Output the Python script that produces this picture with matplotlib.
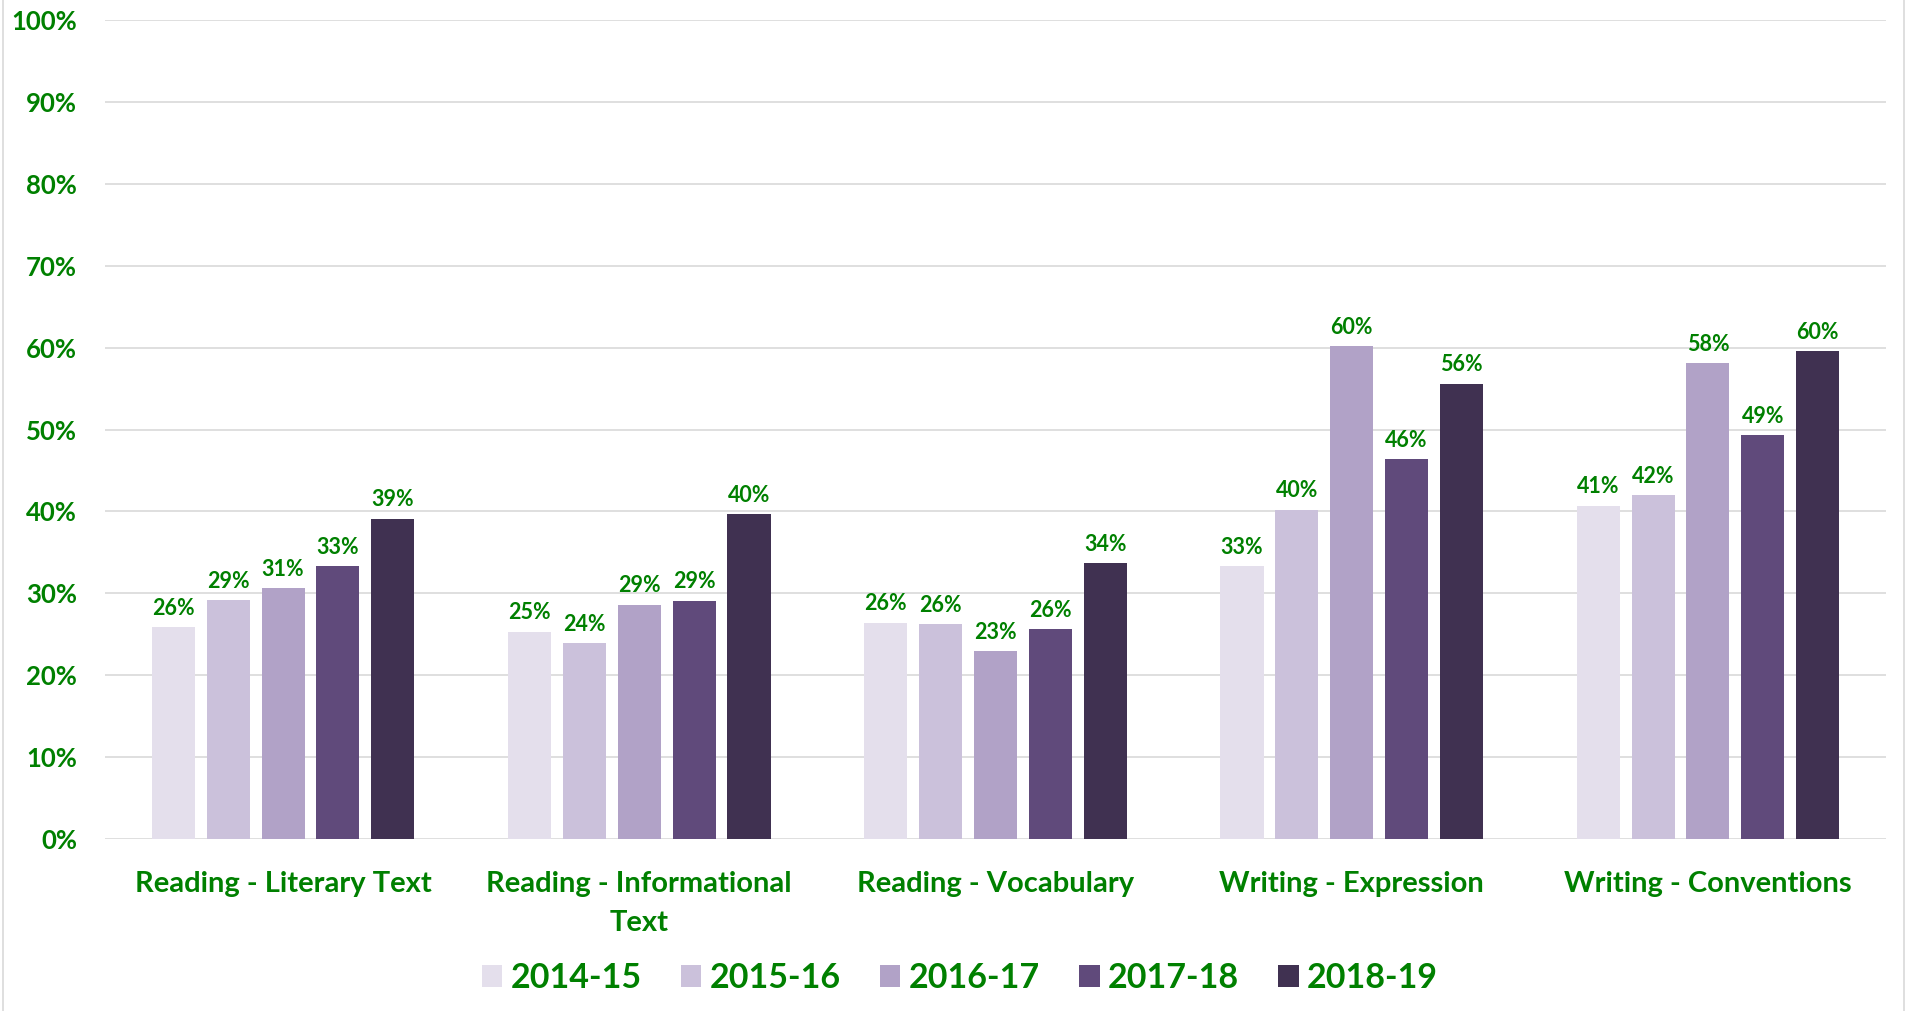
import matplotlib.pyplot as plt
import numpy as np
from matplotlib.lines import Line2D

# data
categories = ['Reading - Literary Text', 'Reading - Informational\nText',
              'Reading - Vocabulary', 'Writing - Expression', 'Writing - Conventions']
years = ['2014-15', '2015-16', '2016-17', '2017-18', '2018-19']
v_2014 = [25.9, 25.3, 26.4, 33.3, 40.7]
v_2015 = [29.2, 23.9, 26.2, 40.2, 42.0]
v_2016 = [30.6, 28.6, 22.9, 60.2, 58.1]
v_2017 = [33.3, 29.1, 25.6, 46.4, 49.3]
v_2018 = [39.1, 39.7, 33.7, 55.6, 59.6]
series = [v_2014, v_2015, v_2016, v_2017, v_2018]
colors = ['#E4DFEC', '#CBC1DB', '#B1A2C7', '#604A7B', '#403151']

green = '#008000'
plt.rcParams['font.family'] = ['Lato', 'DejaVu Sans']
plt.rcParams['font.weight'] = 'bold'

fig = plt.figure(figsize=(19.08, 10.11), dpi=100)
ax = fig.add_axes([0.055, 0.1701, 0.9335, 0.8101])

x = np.arange(len(categories))
step = 0.154
width = 0.121
for i, (vals, col, yr) in enumerate(zip(series, colors, years)):
    pos = x + (i - 2) * step
    bars = ax.bar(pos, vals, width, color=col, label=yr, zorder=3)
    for b, v in zip(bars, vals):
        ax.annotate(f'{v:.0f}%', (b.get_x() + b.get_width() / 2, v),
                    xytext=(0, 6), textcoords='offset points',
                    ha='center', va='bottom', color=green,
                    fontsize=15.5, fontweight='bold')

ax.set_xlim(-0.5, len(categories) - 0.5)
ax.set_ylim(0, 100)
ax.set_yticks(np.arange(0, 101, 10))
ax.set_yticklabels([f'{t}%' for t in range(0, 101, 10)])
ax.set_xticks(x)
ax.set_xticklabels(categories, linespacing=1.6, va='top')
ax.tick_params(axis='y', length=0, pad=20, labelsize=18.5, labelcolor=green)
ax.tick_params(axis='x', length=0, pad=23, labelsize=21, labelcolor=green)
for lab in ax.get_xticklabels() + ax.get_yticklabels():
    lab.set_fontweight('bold')

ax.grid(axis='y', color='#D9D9D9', linewidth=1.2, zorder=0)
for s in ax.spines.values():
    s.set_visible(False)

leg = ax.legend(loc='center', bbox_to_anchor=(0.48, -0.17), ncol=5,
                frameon=False, fontsize=24.5, handlelength=0.6, handleheight=0.6,
                handletextpad=0.25, columnspacing=1.15)
for t in leg.get_texts():
    t.set_color(green)
    t.set_fontweight('bold')

# thin chart-area border on the sides
fig.add_artist(Line2D([0.0016, 0.0016], [0, 1], color='#D9D9D9', linewidth=1.2))
fig.add_artist(Line2D([0.9979, 0.9979], [0, 1], color='#D9D9D9', linewidth=1.2))

fig.savefig('out.png', dpi=100, facecolor='white')
